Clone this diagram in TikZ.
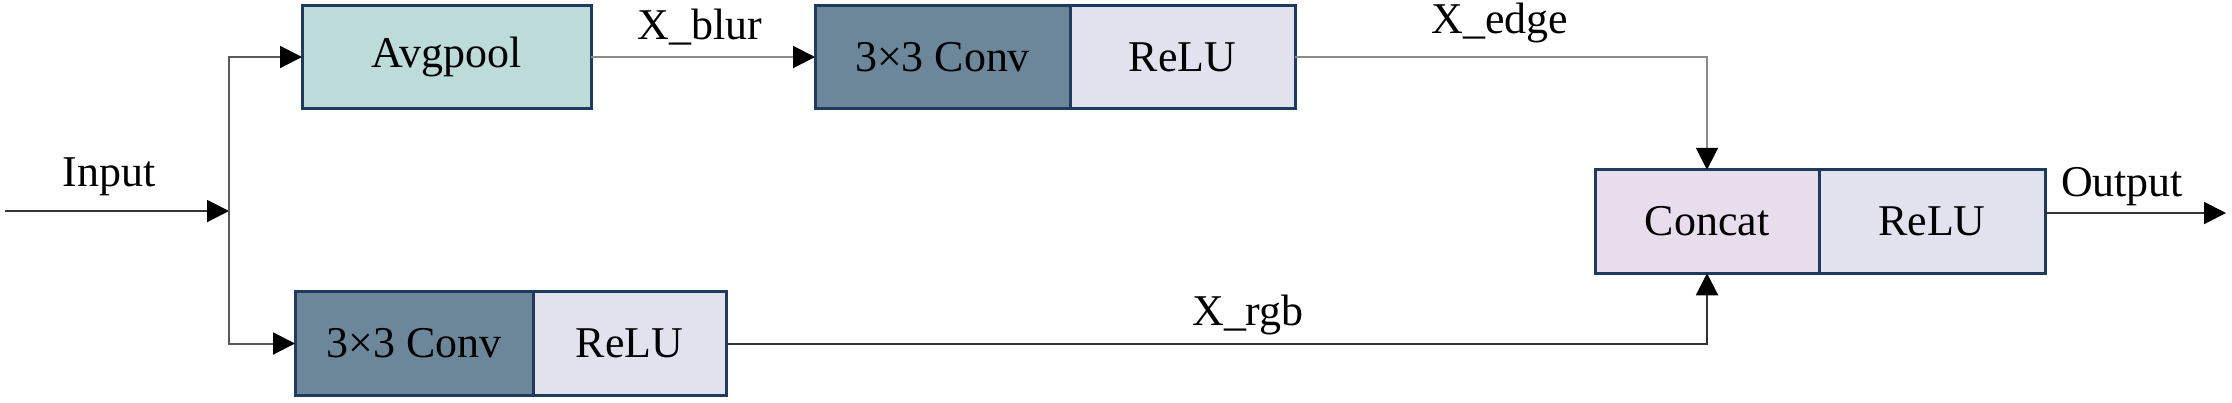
\documentclass[tikz,border=0pt]{standalone}
\usepackage{fontspec}
\setmainfont{Liberation Serif}
\usetikzlibrary{arrows.meta, positioning}

\definecolor{poolfill}{HTML}{BDDBD8}
\definecolor{convfill}{HTML}{6B8799}
\definecolor{relufill}{HTML}{E1E2EE}
\definecolor{catfill}{HTML}{E8DDEC}
\definecolor{boxline}{HTML}{1F3A5F}

\begin{document}
\begin{tikzpicture}[
    >={Triangle[length=0.44cm, width=0.44cm, color=black]}, % filled black arrowheads
    every node/.style={font=\fontsize{25}{30}\selectfont},
    block/.style={draw=boxline, line width=0.06cm, rectangle, minimum height=2.07cm, outer sep=0pt, inner sep=0pt},
    poolbox/.style={block, fill=poolfill},
    convbox/.style={block, fill=convfill},
    relubox/.style={block, fill=relufill},
    catbox/.style={block, fill=catfill},
    link/.style={->, line width=0.04cm, draw=black!80},
    soft link/.style={->, line width=0.04cm, draw=black!45}
]
    \useasboundingbox (0,0) rectangle (44.64,-8.04);

    % === Upper branch ===
    \node[poolbox, minimum width=5.78cm] (pool) at (8.93,-1.14) {Avgpool};
    \node[convbox, minimum width=5.1cm] (conv1) at (18.85,-1.14) {3×3 Conv};
    \node[relubox, minimum width=4.5cm, right=0pt of conv1] (relu1) {ReLU};

    % === Lower branch ===
    \node[convbox, minimum width=4.76cm] (conv2) at (8.28,-6.87) {3×3 Conv};
    \node[relubox, minimum width=3.86cm, right=0pt of conv2] (relu2) {ReLU};

    % === Fusion ===
    \node[catbox, minimum width=4.48cm] (cat) at (34.14,-4.43) {Concat};
    \node[relubox, minimum width=4.52cm, right=0pt of cat] (relu3) {ReLU};

    % === Free ends ===
    \coordinate (in) at (0.1,-4.22);
    \coordinate (split) at (4.58,-4.22);
    \coordinate (out) at (44.52,-4.26);

    % Labels
    \node (inlabel) at (2.18,-3.54) {Input};
    \node (outlabel) at (42.44,-3.74) {Output};
    \node (blurlabel) at (14.0,-0.54) {X\_blur};
    \node (edgelabel) at (30.0,-0.46) {X\_edge};
    \node (rgblabel) at (24.96,-6.3) {X\_rgb};

    % Connectors
    \draw[link] (in) -- (split);
    \draw[link, draw=black!65] (split) |- (pool.west);
    \draw[link, draw=black!65] (split) |- (conv2.west);
    \draw[soft link] (pool) -- (conv1);
    \draw[soft link] (relu1.east) -| (cat.north);
    \draw[link] (relu2.east) -| (cat.south);
    \draw[link] (relu3.east |- out) -- (out);

\end{tikzpicture}
\end{document}
